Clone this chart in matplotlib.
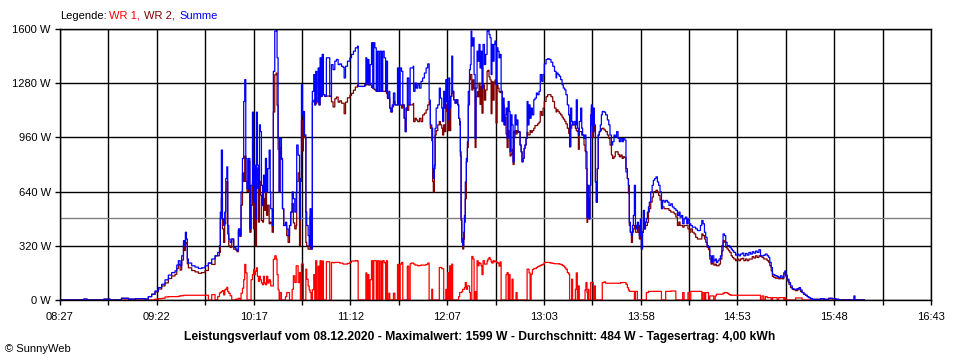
import numpy as np
import matplotlib
matplotlib.use("Agg")
import matplotlib.pyplot as plt

plt.rcParams['font.family'] = ['Liberation Sans', 'DejaVu Sans']

# Zeit in Minuten seit Mitternacht
zeit = [
    507, 520.5, 522.5, 532, 535.5, 542, 546, 550, 553,
    555.4, 557.3, 559.2, 561.1, 563.0, 564.9, 566.8, 568.7, 570.6, 572.5,
    573.5, 574.4, 575.4, 576.3, 577.3, 577.8, 578.4, 579.0, 579.5, 580.1,
    582.0, 583.9, 585.8, 587.7, 589.6, 591.5, 593.4, 595.3, 596.8, 597.8,
    598.3, 598.9, 599.5, 600.2, 600.8, 601.4, 602.0, 602.5, 603.1, 603.9,
    604.8, 605.9, 607.1, 607.8, 608.6, 609.4, 610.1, 610.9, 611.6, 612.2,
    612.8, 613.5, 614.3, 615.1, 615.8, 616.6, 617.2, 617.7, 618.3, 618.9,
    619.4, 620.0, 620.6, 621.1, 621.7, 622.3, 622.9, 623.4, 624.0, 624.6,
    625.3, 626.1, 626.7,
    627.0, 627.8, 628.5, 629.3, 630.1, 630.6, 631.2, 631.8, 632.3, 633.1,
    633.7, 634.4, 635.4, 636.1, 636.9, 637.7, 638.4, 639.2, 639.9, 640.7,
    641.5, 641.8, 642.6, 643.4, 643.9, 644.5, 645.1, 645.6, 646.2, 647.0,
    647.5, 648.3, 648.9, 649.4, 650.0, 650.7, 651.5, 652.1, 652.6, 653.2,
    654.0, 654.5, 655.1, 655.7, 656.3, 657.0, 657.8, 658.7, 659.7, 660.6,
    661.6, 662.5, 663.5, 664.4, 665.4, 666.3, 667.3, 668.2, 668.8, 669.6,
    670.7, 672.1, 673.0, 674.1, 675.2, 676.4, 676.8, 678.7, 680.6, 681.2,
    681.7, 682.3, 682.9, 683.6, 684.4, 685.1, 685.7, 686.3, 687.1, 687.8,
    688.6, 689.3, 690.1, 690.8, 691.6, 692.4, 692.9, 693.5, 694.3, 694.8,
    695.4, 696.2, 696.9, 697.7, 698.4, 699.2, 699.9, 700.7, 701.5, 702.2,
    703.0, 703.6, 704.1, 704.8, 705.6, 706.4, 707.1, 708.1,
    708.4, 709.2, 709.9, 710.7, 711.7, 712.6, 713.5, 714.5, 715.5, 716.4,
    717.2, 717.9, 718.7, 719.2, 719.6, 720.2, 720.6, 721.2, 722.1, 723.0,
    723.6, 724.4, 724.9, 725.5, 726.1, 726.7, 727.2, 727.8, 728.4, 728.9,
    729.5, 730.1, 730.6, 731.2, 732.0, 732.7, 733.5, 734.0, 734.6, 735.0,
    735.4, 735.8, 736.3, 736.9, 737.3, 737.8, 738.4, 739.0, 739.5, 740.2,
    740.7, 741.1, 741.5, 742.2, 742.8, 743.4, 743.9, 744.5, 745.1, 745.6,
    746.2, 746.8, 747.3, 747.9, 748.7, 749.4, 750.2, 750.7, 751.3, 751.9,
    752.5, 753.0, 753.6, 754.2, 754.7, 755.3, 755.9, 756.4, 757.0, 757.6,
    758.2, 758.8, 759.3, 759.9, 760.4, 761.0, 761.6, 762.2, 762.8, 763.3,
    763.9, 764.4, 765.0, 765.6, 766.1, 766.7, 767.3, 767.8, 768.4, 769.0,
    769.6, 770.1, 770.7, 771.3, 771.8, 772.4, 773.0, 773.5, 774.1, 774.7,
    775.3, 776.0, 776.8, 777.5, 778.3, 779.0, 779.8, 780.5, 781.3, 782.1,
    782.8, 783.8, 784.7, 785.7, 786.6, 787.6, 788.6, 789.5,
    789.8, 790.6, 791.3, 792.1, 792.9, 793.6, 794.4, 795.1, 795.9, 796.7,
    797.2, 797.8, 798.4, 798.9, 799.7, 800.5, 801.0, 801.6, 802.2, 802.7,
    803.5, 804.1, 804.6, 805.4, 806.0, 806.5, 807.1, 807.5, 807.9, 808.2,
    808.8, 809.2, 809.6, 810.2, 810.7, 811.3, 811.9, 812.4, 813.0, 813.5,
    814.1, 814.7, 815.3, 815.8, 816.8, 817.7, 818.7, 819.5, 820.2, 821.0,
    821.7, 822.5, 823.2, 824.0, 824.8, 825.5, 826.3, 827.1, 827.8, 828.6,
    829.3, 830.1, 830.7, 831.2, 831.8, 832.4, 833.0, 833.5, 834.1, 834.7,
    835.2, 835.8, 836.4, 836.9, 837.5, 838.1, 838.7, 839.2, 839.8, 840.4,
    840.9, 841.5, 842.1, 842.6, 843.4, 844.2, 844.9, 845.6, 846.4, 847.2,
    847.9, 848.7, 849.5, 850.1, 851.0, 851.9, 852.9, 853.8, 854.8, 855.7,
    856.7, 857.7, 858.6, 859.4, 860.1, 860.9, 861.6, 862.4, 863.1, 863.9,
    864.6, 865.4, 866.2, 867.1, 868.1, 869.0, 870.0, 870.9,
    871.7, 872.5, 873.2, 874.0, 874.7, 875.5, 876.3, 877.0, 877.8, 878.5,
    879.3, 880.1, 880.8, 881.6, 882.3, 883.1, 883.9, 884.6, 885.4, 886.1,
    886.9, 887.7, 888.4, 889.2, 889.9, 890.7, 891.7, 892.6, 893.6, 894.5,
    895.5, 896.4, 897.4, 898.3, 899.3, 900.2, 901.2, 902.1, 903.1, 904.0,
    905.0, 905.9, 906.8, 907.8, 908.7, 909.7, 910.6, 911.2, 912.0, 912.7,
    913.5, 914.4, 915.4, 916.3, 917.3, 918.2, 919.2, 919.8, 920.3, 921.1,
    922.1, 923.0, 924.0, 924.9, 925.9, 926.8, 927.8, 928.7, 929.6, 930.6,
    931.5, 932.5, 933.4, 934.4, 935.4, 940.1, 942.0, 944.8, 946.8, 948.7,
    950.6, 959.1, 959.7, 965.0,
]

# Summe (W)
summe = [
    0, 5, 0, 5, 0, 10, 5, 8, 8,
    5, 20, 34, 53, 73, 93, 119, 147, 162, 172,
    206, 232, 202, 261, 350, 320, 400, 360, 242, 218,
    202, 194, 186, 190, 202, 218, 242, 261, 281, 321,
    519, 885, 479, 440, 519, 717, 786, 440, 360, 340,
    360, 311, 301, 291, 420, 380, 638, 836, 1172, 1301,
    836, 657, 836, 420, 677, 1109, 578, 796, 479, 1109,
    796, 657, 1034, 994, 677, 558, 737, 638, 836, 638,
    776, 885, 638,
    539, 440, 1350, 1588, 1598, 1430, 954, 638, 954, 836,
    539, 440, 459, 420, 380, 440, 519, 638, 598, 519,
    638, 915, 855, 479, 717, 1271, 1093, 1113, 975, 519,
    440, 380, 321, 539, 301, 1232, 1331, 1152, 1350, 1172,
    1370, 1152, 1430, 1202, 1450, 1212, 1202, 1430, 1430, 1202,
    1390, 1360, 1410, 1420, 1390, 1394, 1380, 1374, 1311, 1380,
    1410, 1430, 1450, 1469, 1489, 1499, 1261, 1261, 1271, 1430,
    1281, 1420, 1271, 1390, 1519, 1251, 1519, 1489, 1232, 1469,
    1232, 1469, 1232, 1469, 1430, 1232, 1410, 1190, 1232, 1133,
    1113, 1152, 1222, 1152, 1152, 1370, 1152, 1370, 1350, 1152,
    1073, 994, 1133, 1311, 1152, 1370, 1370, 1380,
    1232, 1281, 1251, 1271, 1251, 1291, 1311, 1340, 1370, 1394,
    1180, 1034, 1014, 776, 717, 796, 1014, 1133, 1152, 1251,
    1192, 1133, 1054, 1232, 1133, 1301, 1172, 1063, 1311, 1133,
    1202, 1440, 1232, 1182, 1162, 1182, 1152, 1073, 1054, 875,
    479, 360, 321, 400, 499, 697, 836, 935, 1232, 1360,
    1390, 1588, 1500, 1548, 1331, 954, 1251, 1469, 1410, 1509,
    1370, 1469, 1251, 1509, 1390, 1450, 1588, 1598, 1568, 1548,
    1331, 1509, 1410, 1509, 1529, 1271, 1489, 1469, 1430, 1450,
    1232, 1054, 1192, 1034, 1093, 1133, 954, 1172, 1113, 875,
    1093, 1034, 816, 994, 1093, 1034, 1063, 994, 994, 915,
    875, 816, 836, 895, 915, 954, 1172, 1034, 1152, 1073,
    1133, 1093, 1182, 1192, 1222, 1212, 1232, 1331, 1291, 1331,
    1394, 1420, 1424, 1420, 1404, 1380, 1350, 1311,
    1340, 1331, 1321, 1301, 1271, 1251, 1241, 1212, 1152, 1093,
    905, 1133, 1054, 1034, 1054, 1034, 1182, 1014, 974, 1054,
    1133, 1014, 974, 954, 974, 875, 489, 677, 598, 479,
    677, 1093, 1152, 994, 1133, 1034, 697, 578, 776, 974,
    994, 1034, 1093, 1113, 1109, 1093, 1063, 1034, 974, 915,
    935, 974, 964, 994, 954, 935, 954, 935, 954, 944,
    756, 717, 677, 459, 400, 380, 440, 499, 677, 440,
    420, 459, 440, 380, 479, 301, 400, 529, 420, 459,
    479, 519, 549, 578, 638, 677, 707, 717, 727, 697,
    677, 638, 539, 588, 578, 588, 578, 558, 568, 549,
    539, 529, 499, 519, 489, 499, 450, 479, 489, 450,
    479, 450, 440, 430, 430, 420, 410, 410,
    440, 469, 450, 400, 370, 321, 311, 261, 222, 261,
    232, 242, 222, 232, 242, 261, 321, 390, 380, 341,
    321, 321, 311, 301, 291, 281, 265, 271, 261, 271,
    277, 261, 275, 265, 281, 271, 285, 277, 289, 281,
    297, 261, 261, 265, 271, 261, 251, 222, 192, 152,
    147, 143, 139, 133, 143, 133, 162, 172, 147, 123,
    103, 83, 67, 63, 63, 67, 73, 59, 44, 34,
    28, 20, 14, 8, 4, 8, 4, 10, 8, 4,
    0, 24, 0, 0,
]

# WR 1 (W)
wr1 = [
    0, 0, 0, 0, 0, 0, 0, 0, 0,
    0, 0, 0, 5, 8, 10, 18, 20, 20, 20,
    20, 22, 25, 25, 28, 28, 28, 28, 28, 28,
    28, 28, 28, 28, 28, 0, 32, 0, 20, 40,
    45, 50, 55, 30, 60, 65, 75, 50, 40, 25,
    0, 0, 5, 5, 10, 0, 40, 70, 120, 210,
    160, 0, 0, 0, 120, 150, 180, 150, 170, 190,
    140, 110, 140, 120, 100, 90, 140, 100, 90, 140,
    100, 120, 110,
    83, 83, 240, 261, 242, 150, 60, 0, 44, 0,
    0, 0, 20, 44, 44, 0, 0, 63, 143, 103,
    202, 202, 103, 162, 0, 212, 212, 0, 0, 182,
    123, 83, 60, 44, 0, 60, 150, 0, 232, 0,
    200, 0, 232, 0, 230, 0, 0, 226, 226, 0,
    222, 220, 222, 222, 222, 218, 218, 212, 212, 212,
    216, 222, 230, 230, 232, 230, 0, 0, 0, 160,
    0, 150, 0, 120, 232, 0, 232, 232, 0, 232,
    0, 230, 0, 232, 220, 0, 232, 0, 40, 0,
    0, 0, 40, 0, 0, 210, 0, 212, 222, 0,
    0, 0, 0, 200, 0, 214, 218, 218,
    212, 206, 206, 202, 204, 206, 206, 206, 210, 218,
    0, 0, 63, 0, 0, 0, 0, 0, 0, 192,
    192, 185, 185, 0, 0, 63, 0, 162, 0, 202,
    0, 212, 0, 0, 0, 0, 0, 20, 44, 44,
    44, 50, 63, 63, 73, 103, 63, 83, 83, 44,
    0, 0, 257, 242, 0, 50, 0, 232, 202, 220,
    215, 202, 150, 232, 212, 212, 230, 242, 251, 240,
    225, 218, 232, 225, 230, 226, 220, 218, 200, 225,
    0, 0, 0, 0, 0, 150, 162, 0, 150, 0,
    0, 123, 0, 0, 0, 44, 0, 0, 0, 0,
    0, 0, 0, 0, 0, 0, 182, 182, 160, 0,
    152, 180, 186, 186, 192, 198, 200, 205, 208, 212,
    222, 222, 222, 220, 218, 216, 214, 214,
    214, 214, 212, 210, 205, 200, 190, 182, 162, 152,
    0, 0, 123, 0, 0, 63, 160, 0, 83, 0,
    0, 0, 0, 0, 60, 103, 44, 0, 63, 0,
    0, 103, 103, 103, 0, 83, 0, 0, 0, 0,
    0, 0, 0, 103, 107, 99, 99, 99, 99, 99,
    99, 99, 99, 99, 99, 99, 103, 103, 103, 103,
    93, 73, 60, 51, 51, 51, 51, 51, 0, 51,
    51, 0, 0, 0, 0, 0, 0, 0, 0, 0,
    44, 44, 51, 51, 51, 51, 51, 51, 51, 51,
    51, 51, 0, 0, 0, 51, 51, 51, 53, 53,
    53, 0, 0, 0, 0, 0, 44, 0, 0, 0,
    44, 0, 51, 51, 51, 51, 51, 51,
    51, 0, 44, 0, 44, 44, 0, 24, 24, 24,
    0, 24, 34, 34, 34, 34, 34, 40, 44, 44,
    40, 34, 30, 28, 28, 28, 28, 28, 28, 28,
    28, 28, 28, 28, 28, 28, 28, 28, 28, 28,
    28, 0, 24, 0, 20, 14, 14, 14, 0, 14,
    14, 14, 0, 14, 14, 14, 0, 14, 0, 0,
    0, 0, 0, 0, 12, 12, 12, 12, 0, 0,
    0, 0, 0, 0, 0, 0, 0, 0, 0, 0,
    0, 0, 0, 0,
]

# WR 2 (W)
wr2 = [
    0, 5, 0, 5, 0, 10, 5, 8, 8,
    5, 20, 34, 48, 65, 83, 101, 127, 142, 152,
    186, 210, 177, 236, 322, 292, 340, 332, 214, 190,
    174, 166, 158, 162, 174, 218, 210, 261, 261, 281,
    480, 600, 420, 340, 450, 640, 700, 390, 320, 310,
    360, 300, 295, 285, 410, 375, 560, 750, 700, 850,
    700, 640, 820, 400, 560, 700, 420, 600, 320, 780,
    660, 460, 700, 620, 470, 460, 600, 530, 700, 500,
    560, 450, 460,
    456, 400, 1110, 1330, 1340, 1150, 890, 638, 900, 830,
    539, 440, 440, 380, 340, 440, 519, 570, 455, 420,
    440, 700, 750, 320, 700, 1060, 880, 1100, 960, 340,
    320, 300, 300, 495, 301, 1170, 1180, 1152, 1160, 1172,
    1170, 1152, 1200, 1202, 1220, 1212, 1202, 1204, 1204, 1202,
    1170, 1140, 1188, 1198, 1168, 1176, 1162, 1162, 1100, 1168,
    1194, 1208, 1220, 1239, 1257, 1269, 1261, 1261, 1271, 1270,
    1281, 1270, 1271, 1270, 1255, 1251, 1245, 1240, 1232, 1235,
    1232, 1232, 1232, 1232, 1232, 1232, 1220, 1190, 1190, 1133,
    1109, 1140, 1172, 1152, 1152, 1152, 1152, 1152, 1133, 1152,
    1073, 994, 1133, 1120, 1152, 1152, 1152, 1160,
    1053, 1073, 1063, 1053, 1073, 1053, 1093, 1103, 1123, 1152,
    1172, 1014, 940, 700, 638, 776, 974, 1000, 1034, 1054,
    1034, 1014, 974, 1034, 994, 1152, 1113, 1000, 1133, 1000,
    1202, 1220, 1232, 1182, 1162, 1182, 1152, 1073, 1034, 850,
    469, 340, 301, 360, 459, 598, 816, 900, 1152, 1301,
    1331, 1331, 1240, 1300, 1250, 900, 1200, 1230, 1200, 1280,
    1155, 1260, 1103, 1270, 1180, 1240, 1350, 1356, 1317, 1300,
    1100, 1290, 1180, 1284, 1299, 1045, 1269, 1251, 1230, 1225,
    1232, 1054, 1150, 1034, 1080, 980, 900, 1000, 960, 850,
    860, 890, 800, 960, 1000, 980, 1000, 990, 990, 915,
    875, 816, 836, 895, 915, 954, 990, 975, 975, 1000,
    990, 1000, 1014, 1030, 1030, 1040, 1050, 1113, 1090, 1133,
    1172, 1200, 1212, 1212, 1200, 1172, 1133, 1110,
    1123, 1113, 1103, 1093, 1080, 1068, 1055, 1040, 1014, 984,
    905, 1014, 1034, 1034, 1034, 1014, 1000, 994, 890, 994,
    994, 974, 974, 915, 880, 776, 459, 677, 560, 479,
    677, 1034, 1133, 960, 1034, 994, 697, 578, 776, 974,
    994, 1000, 1010, 1014, 1004, 994, 974, 954, 915, 856,
    836, 846, 875, 875, 860, 846, 856, 836, 846, 840,
    776, 717, 630, 440, 400, 340, 400, 420, 440, 400,
    400, 440, 400, 360, 440, 301, 400, 420, 420, 440,
    440, 459, 520, 540, 578, 608, 638, 640, 648, 638,
    618, 590, 558, 550, 539, 539, 539, 529, 519, 519,
    509, 490, 440, 460, 440, 440, 430, 440, 440, 440,
    420, 400, 420, 400, 390, 370, 360, 360,
    360, 390, 380, 360, 341, 311, 297, 242, 212, 230,
    206, 212, 202, 202, 212, 242, 290, 350, 341, 311,
    301, 291, 281, 261, 251, 242, 232, 242, 232, 242,
    246, 232, 242, 232, 242, 242, 256, 248, 261, 251,
    261, 257, 251, 242, 242, 232, 222, 202, 172, 139,
    133, 129, 131, 125, 129, 125, 155, 166, 140, 113,
    93, 73, 63, 60, 55, 60, 66, 50, 44, 34,
    28, 20, 14, 8, 4, 8, 4, 10, 8, 4,
    0, 0, 0, 0,
]

x_start = 8 * 60 + 27
x_end = 16 * 60 + 43
x_labels = ["08:27", "09:22", "10:17", "11:12", "12:07",
            "13:03", "13:58", "14:53", "15:48", "16:43"]
y_ticks = [0, 320, 640, 960, 1280, 1600]
durchschnitt = 484

fig = plt.figure(figsize=(9.6, 3.6), dpi=100)
ax = fig.add_axes([60 / 960, 60 / 360, 871 / 960, 271 / 360])

# grid below the curves
ax.set_axisbelow(True)
ax.grid(True, color='black', linewidth=1.0)
ax.axhline(durchschnitt, color='#808080', linewidth=1.0, zorder=1.5)

ax.step(zeit, wr1, where='post', color='#ff0000', linewidth=0.9)
ax.step(zeit, wr2, where='post', color='#800000', linewidth=0.9)
ax.step(zeit, summe, where='post', color='#0000ff', linewidth=0.9)

ax.set_xlim(x_start, x_end)
ax.set_ylim(0, 1600)

ticks = np.linspace(x_start, x_end, 2 * len(x_labels) - 1)
labels = []
for i in range(len(ticks)):
    labels.append(x_labels[i // 2] if i % 2 == 0 else "")
ax.set_xticks(ticks)
ax.set_xticklabels(labels)
ax.set_yticks(y_ticks)
ax.set_yticklabels([str(v) + " W" for v in y_ticks])

ax.tick_params(axis='both', direction='out', length=3.6, width=1.0,
               colors='black', labelsize=8)
ax.tick_params(axis='x', pad=5)
ax.tick_params(axis='y', pad=3)
for s in ax.spines.values():
    s.set_color('black')
    s.set_linewidth(1.0)

# legend line at the top
fig.text(60 / 960, 1 - 16 / 360, "Legende:", fontsize=8, va='center')
fig.text(109 / 960, 1 - 16 / 360, "WR 1,", fontsize=8, va='center', color='#ff0000')
fig.text(144 / 960, 1 - 16 / 360, "WR 2,", fontsize=8, va='center', color='#800000')
fig.text(179 / 960, 1 - 16 / 360, "Summe", fontsize=8, va='center', color='#0000ff')

fig.text(0.5, 1 - 337 / 360,
         "Leistungsverlauf vom 08.12.2020 - Maximalwert: 1599 W - "
         "Durchschnitt: 484 W - Tagesertrag: 4,00 kWh",
         fontsize=8.7, fontweight='bold', ha='center', va='center')
fig.text(5 / 960, 1 - 349 / 360, "© SunnyWeb", fontsize=8, va='center')

fig.savefig("out.png", dpi=100)
